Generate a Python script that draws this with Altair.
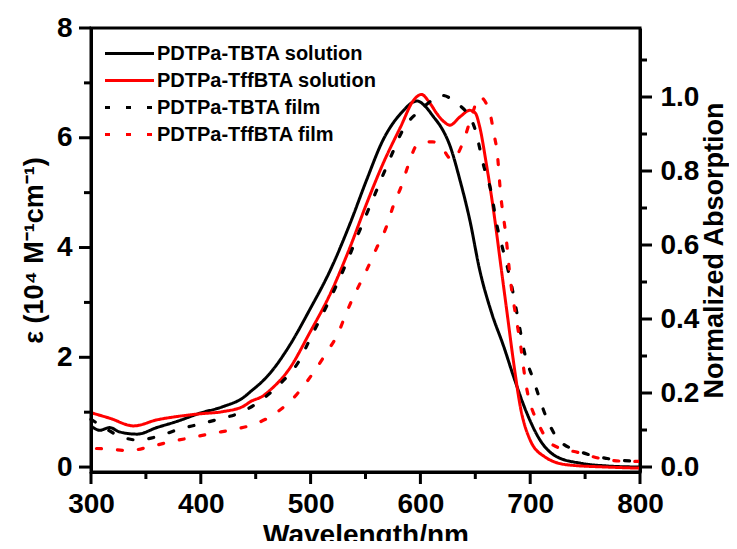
import altair as alt
import pandas as pd

# ---- data ----
series_names = ["PDTPa-TBTA solution", "PDTPa-TffBTA solution",
                "PDTPa-TBTA film", "PDTPa-TffBTA film"]

# solutions: molar extinction coefficient (10^4 M^-1 cm^-1)
tbta_sol_wl = [300, 308, 317, 326, 342, 360, 378, 399, 420, 439, 445, 457, 463, 481, 499,
               518, 536, 551, 566, 582, 597, 605, 612, 618, 627, 636, 645, 654, 665, 676, 685,
               697, 709, 724, 746, 770, 800]
tbta_sol_eps = [0.75, 0.67, 0.72, 0.64, 0.60, 0.72, 0.83, 0.98, 1.10, 1.27, 1.37, 1.58, 1.71, 2.22, 2.86,
                3.59, 4.44, 5.23, 5.96, 6.44, 6.67, 6.56, 6.38, 6.22, 5.85, 5.23, 4.50, 3.59, 2.80, 2.19, 1.64,
                0.98, 0.49, 0.19, 0.07, 0.02, 0.00]

tffbta_sol_wl = [300, 317, 339, 360, 378, 399, 420, 439, 445, 457, 463, 481, 499, 518, 536,
                 551, 566, 582, 594, 601, 608, 615, 621, 627, 636, 645, 650, 654, 660, 667,
                 673, 679, 685, 691, 700, 713, 734, 770, 800]
tffbta_sol_eps = [0.99, 0.89, 0.75, 0.86, 0.92, 0.97, 1.01, 1.11, 1.19, 1.30, 1.40, 1.80, 2.44, 3.16, 4.01,
                  4.80, 5.53, 6.20, 6.69, 6.79, 6.65, 6.44, 6.30, 6.23, 6.38, 6.50, 6.45, 6.20, 5.53, 4.62,
                  3.71, 2.80, 1.89, 1.10, 0.49, 0.19, 0.04, 0.00, -0.02]

# films: normalized absorption
tbta_film_wl = [300, 310, 325, 342, 360, 380, 399, 417, 437, 455, 473, 490, 499, 518, 535,
                543, 559, 575, 584, 600, 610, 618, 633, 649, 658, 664, 670, 676, 682, 688,
                695, 703, 715, 726, 746, 770, 800]
tbta_film_abs = [0.129, 0.110, 0.085, 0.073, 0.082, 0.102, 0.116, 0.130, 0.148, 0.181, 0.227, 0.289, 0.343, 0.456, 0.568,
                 0.627, 0.740, 0.852, 0.911, 0.965, 0.990, 1.005, 0.984, 0.920, 0.810, 0.749, 0.649, 0.578, 0.505, 0.415,
                 0.307, 0.235, 0.132, 0.073, 0.041, 0.023, 0.015]

tffbta_film_wl = [305, 314, 334, 354, 372, 392, 411, 431, 449, 469, 487, 502, 514, 525, 533,
                  542, 551, 560, 569, 575, 583, 589, 597, 611, 620, 629, 639, 646, 654, 663,
                  667, 670, 673, 678, 682, 687, 691, 696, 708, 721, 744, 764, 782, 800]
tffbta_film_abs = [0.050, 0.049, 0.044, 0.055, 0.068, 0.080, 0.091, 0.102, 0.116, 0.147, 0.195, 0.253, 0.307, 0.361, 0.420,
                   0.478, 0.532, 0.591, 0.649, 0.703, 0.762, 0.816, 0.870, 0.879, 0.860, 0.830, 0.879, 0.942, 1.000, 0.960,
                   0.900, 0.848, 0.740, 0.622, 0.505, 0.406, 0.334, 0.226, 0.114, 0.059, 0.039, 0.023, 0.016, 0.015]

x_major = [300, 400, 500, 600, 700, 800]
x_minor = [350, 450, 550, 650, 750]
left_major = [0, 2, 4, 6, 8]
left_minor = [1, 3, 5, 7]
right_major = [0.0, 0.2, 0.4, 0.6, 0.8, 1.0]
right_minor = [0.1, 0.3, 0.5, 0.7, 0.9, 1.1]

EPS_DOMAIN = [-0.09, 8]
ABS_DOMAIN = [-0.0135, 1.1865]
W, H = 549, 444
MAJOR_LEN, MINOR_LEN = 12, 7

# ---- tables ----
def frame(wl, val, name, order):
    return pd.DataFrame({"wl": wl, "v": val, "series": name, "o": range(len(wl)), "k": order})

sol_df = pd.concat([frame(tbta_sol_wl, tbta_sol_eps, series_names[0], 0),
                    frame(tffbta_sol_wl, tffbta_sol_eps, series_names[1], 1)])
film_df = pd.concat([frame(tbta_film_wl, tbta_film_abs, series_names[2], 2),
                     frame(tffbta_film_wl, tffbta_film_abs, series_names[3], 3)])

FONT = "Liberation Sans"

color = alt.Color("series:N", scale=alt.Scale(domain=series_names,
                                              range=["#000000", "#ff0000", "#000000", "#ff0000"]),
                  legend=alt.Legend(title=None, orient="none", legendX=27, legendY=14,
                                    symbolType="M-2.45,0H2.45", symbolSize=400, symbolStrokeWidth=3,
                                    labelFont=FONT, labelFontSize=20, labelFontWeight="bold",
                                    labelColor="black", rowPadding=5, labelOffset=16,
                                    labelLimit=400))
dash = alt.StrokeDash("series:N", scale=alt.Scale(domain=series_names,
                                                  range=[[1, 0], [1, 0], [5, 16], [5, 16]]),
                      legend=None)

base_axis = dict(domainColor="black", domainWidth=3, ticks=False,
                 labelFont=FONT, labelFontSize=28, labelFontWeight="bold", labelColor="black",
                 labelOverlap=False, labelFlush=False,
                 titleFont=FONT, titleFontWeight="bold", titleColor="black", grid=False, zindex=1)

x_axis = alt.Axis(values=x_major, title="Wavelength/nm", labelPadding=18,
                  titleFontSize=28, titlePadding=3, **base_axis)
left_axis = alt.Axis(orient="left", values=left_major, title="ε (10⁴ M⁻¹cm⁻¹)",
                     labelPadding=19, titleFontSize=27, titlePadding=8, **base_axis)
right_axis = alt.Axis(orient="right", values=right_major, format=".1f",
                      title="Normalized Absorption", labelPadding=20,
                      titleFontSize=27, titleAngle=270, titleBaseline="top", titlePadding=3,
                      **base_axis)

x_scale = alt.Scale(domain=[300, 800], nice=False, zero=False)
eps_scale = alt.Scale(domain=EPS_DOMAIN, nice=False, zero=False)
abs_scale = alt.Scale(domain=ABS_DOMAIN, nice=False, zero=False)

sol = alt.Chart(sol_df).mark_line(strokeWidth=3, interpolate="monotone").encode(
    x=alt.X("wl:Q", scale=x_scale, axis=x_axis),
    y=alt.Y("v:Q", scale=eps_scale, axis=left_axis),
    color=color, strokeDash=dash, detail="k:N", order="o:Q")

film = alt.Chart(film_df).mark_line(strokeWidth=3.2, interpolate="monotone", strokeCap="round").encode(
    x=alt.X("wl:Q", scale=x_scale, axis=x_axis),
    y=alt.Y("v:Q", scale=abs_scale, axis=right_axis),
    color=color, strokeDash=dash, detail="k:N", order="o:Q")

# tick marks (outside the plot area), positioned through the same scales
def x_tick_layer(values, length):
    return alt.Chart(pd.DataFrame({"wl": values})).mark_rule(
        color="black", strokeWidth=3, clip=False).encode(
        x=alt.X("wl:Q", scale=x_scale, axis=x_axis),
        y=alt.value(H), y2=alt.value(H + length))

def y_tick_layer(values, scale, side, length):
    x0 = 0 if side == "left" else W
    x1 = x0 - length if side == "left" else x0 + length
    return alt.Chart(pd.DataFrame({"t": values})).mark_rule(
        color="black", strokeWidth=3, clip=False).encode(
        y=alt.Y("t:Q", scale=scale, axis=None),
        x=alt.value(x0), x2=alt.value(x1))

ticks = [x_tick_layer(x_major, MAJOR_LEN), x_tick_layer(x_minor, MINOR_LEN),
         y_tick_layer(left_major, eps_scale, "left", MAJOR_LEN),
         y_tick_layer(left_minor, eps_scale, "left", MINOR_LEN),
         y_tick_layer(right_major, abs_scale, "right", MAJOR_LEN),
         y_tick_layer(right_minor, abs_scale, "right", MINOR_LEN)]

chart = alt.layer(sol, film, *ticks).resolve_scale(y="independent").properties(
    width=W, height=H,
    autosize=alt.AutoSizeParams(type="none"),
    padding={"left": 83, "top": 20, "right": 89, "bottom": 69},
).configure_view(stroke="black", strokeWidth=3)

chart.save("out.html", embed_options={"renderer": "svg", "actions": False})
